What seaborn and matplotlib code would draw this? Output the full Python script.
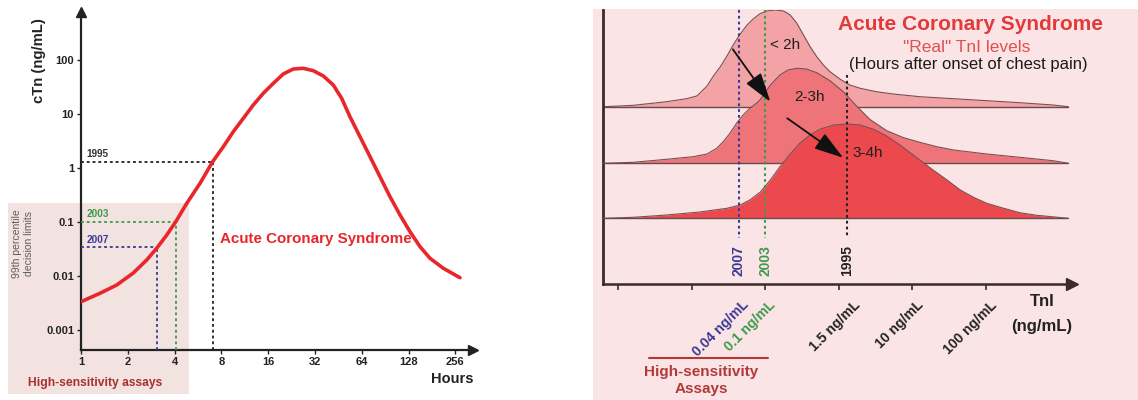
import numpy as np
import matplotlib
matplotlib.use("Agg")
import matplotlib.pyplot as plt
import seaborn as sns
from matplotlib.patches import Rectangle
from matplotlib.lines import Line2D
from matplotlib.ticker import NullLocator

sns.set_theme(style="white")
plt.rcParams["font.family"] = ["Liberation Sans", "DejaVu Sans"]

# ---------------- data: left panel (cTn kinetics) ----------------
hours = [1.0, 1.325, 1.697, 2.17, 2.646, 3.068, 3.56, 4.07, 4.79, 5.83, 7.03, 8.23,
         9.54, 11.07, 12.83, 14.88, 17.26, 20.0, 23.2, 26.9, 31.2, 36.2, 41.96,
         47.5, 53.7, 62.3, 72.3, 83.8, 97.2, 112.7, 130.7, 151.6, 175.7, 214, 274]
ctn = [0.00334, 0.00479, 0.00681, 0.01137, 0.0198, 0.0326, 0.0574, 0.1014, 0.222,
       0.521, 1.31, 2.48, 4.70, 8.32, 14.7, 24.2, 37.0, 55.1, 68.1, 70.2, 63.4,
       50.6, 34.4, 19.5, 8.91, 3.80, 1.62, 0.690, 0.294, 0.135, 0.0661, 0.0349,
       0.0213, 0.0139, 0.0093]
hour_ticks = [1, 2, 4, 8, 16, 32, 64, 128, 256]
ctn_ticks = [0.001, 0.01, 0.1, 1, 10, 100]
ctn_tick_labels = ["0.001", "0.01", "0.1", "1", "10", "100"]

cut_years = ["1995", "2003", "2007"]
cut_hours = [7.03, 4.07, 3.07]
cut_ctn = [1.29, 0.10, 0.034]
cut_colors = ["#222222", "#3d9a4c", "#3a3a95"]

# ---------------- data: right panel (TnI distributions) ----------------
tnl_tick_pos = [0, 1, 2, 3, 4, 5]
tnl_tick_labels = ["", "", "0.1 ng/mL", "1.5 ng/mL", "10 ng/mL", "100 ng/mL"]
extra_label = "0.04 ng/mL"
right_cut_pos = [3.11, 2.0, 1.64]          # 1995, 2003, 2007

ridge_names = ["< 2h", "2-3h", "3-4h"]
r1_u = [-0.19, 0.21, 0.66, 0.93, 1.07, 1.11, 1.21, 1.29, 1.39, 1.48, 1.57, 1.66, 1.75,
        1.84, 1.93, 2.02, 2.13, 2.25, 2.34, 2.43, 2.52, 2.61, 2.70, 2.79, 2.88, 3.02,
        3.15, 3.29, 3.51, 3.74, 4.10, 4.56, 5.01, 5.46, 5.91, 6.12]
r1_h = [0, 1.4, 5.0, 8.0, 10.7, 13.4, 20.7, 30, 40, 50.7, 62.4, 72.7, 81.4,
        88, 93, 95.7, 96.7, 95.7, 91.7, 83.4, 71.7, 60, 50, 41.7, 35, 27.4,
        21.7, 18.4, 15, 12.7, 10, 8, 6, 4, 1.7, 0]
r2_u = [-0.19, 0.21, 0.66, 1.02, 1.21, 1.34, 1.43, 1.52, 1.61, 1.70, 1.79, 1.88, 1.93,
        2.07, 2.20, 2.31, 2.43, 2.56, 2.70, 2.88, 3.06, 3.24, 3.42, 3.65, 3.88, 4.10,
        4.33, 4.56, 5.01, 5.46, 5.91, 6.12]
r2_h = [0, 1, 4, 6.6, 9.3, 15, 21.6, 30, 40, 48.3, 55, 60, 63.5,
        78.3, 88.3, 93.3, 95, 94.3, 90.6, 82.6, 71.6, 57.3, 44, 32.6, 25.6, 21,
        16.6, 13.3, 9.3, 6, 2.6, 0]
r3_u = [-0.19, 0.21, 0.66, 1.11, 1.48, 1.66, 1.79, 1.93, 2.07, 2.20, 2.34, 2.47, 2.61,
        2.74, 2.93, 3.11, 3.29, 3.47, 3.65, 3.83, 4.01, 4.10, 4.28, 4.47, 4.65, 4.83,
        5.01, 5.24, 5.46, 5.69, 6.12]
r3_h = [0, 1, 3.3, 6.3, 10, 13.3, 18.3, 26, 38.3, 51.6, 64.3, 75, 83.3,
        89, 93.3, 94.3, 93.3, 89, 82.3, 73.3, 63.3, 58.3, 48.3, 38.3, 28.3, 21,
        15, 10, 5.6, 3, 0]

# ---------------- figure ----------------
W, H = 1138, 400
fig = plt.figure(figsize=(W / 100, H / 100), dpi=100)
fig.patch.set_facecolor("white")


def fx(p):
    return p / W


def fy(p):
    return 1 - p / H


# background panels
fig.add_artist(Rectangle((fx(8), fy(394)), (189 - 8) / W, (394 - 203) / H,
                         transform=fig.transFigure, facecolor="#f2e2e0",
                         edgecolor="none", zorder=-5))
fig.add_artist(Rectangle((fx(593), 0), 1 - fx(593), fy(9),
                         transform=fig.transFigure, facecolor="#fbe4e6",
                         edgecolor="none", zorder=-5))

AX = "#222222"

# ---------------- left panel ----------------
axL = fig.add_axes([fx(81), fy(350), (473 - 81) / W, (350 - 12) / H])
axL.patch.set_alpha(0)
axL.set_xscale("log", base=2)
axL.set_yscale("log")
axL.set_xlim(1, 2 ** (392 / 46.8))
axL.set_ylim(10 ** (-3 - 20 / 54), 10 ** (-3 + 318 / 54))

sns.lineplot(x=hours, y=ctn, ax=axL, color="#e8262b", lw=2.6,
             estimator=None, sort=False, legend=False, zorder=5)

ylo = axL.get_ylim()[0]
for yr, h, c, col in zip(cut_years, cut_hours, cut_ctn, cut_colors):
    axL.plot([1, h], [c, c], ls=(0, (1.6, 1.6)), color=col, lw=1.3, zorder=3)
    axL.plot([h, h], [ylo, c], ls=(0, (1.6, 1.6)), color=col, lw=1.3, zorder=3)
    axL.annotate(yr, xy=(1, c), xytext=(4, 2), textcoords="offset points",
                 ha="left", va="bottom", fontsize=7.2, fontweight="bold",
                 color=col if yr != "1995" else "#333333")

for s in ["top", "right"]:
    axL.spines[s].set_visible(False)
for s in ["left", "bottom"]:
    axL.spines[s].set_color(AX)
    axL.spines[s].set_linewidth(1.6)
axL.plot(0, 1, marker="^", ms=7, color=AX, transform=axL.transAxes, clip_on=False)
axL.plot(1, 0, marker=">", ms=7, color=AX, transform=axL.transAxes, clip_on=False)

axL.set_xticks(hour_ticks)
axL.set_xticklabels([str(t) for t in hour_ticks])
axL.set_yticks(ctn_ticks)
axL.set_yticklabels(ctn_tick_labels)
axL.xaxis.set_minor_locator(NullLocator())
axL.yaxis.set_minor_locator(NullLocator())
axL.tick_params(axis="both", which="major", direction="out", length=3, width=1,
                color=AX, labelsize=8, pad=2, bottom=True, left=True,
                labelcolor=AX)
for lab in axL.get_xticklabels() + axL.get_yticklabels():
    lab.set_fontweight("bold")
axL.set_xlabel("")
axL.set_ylabel("")

fig.text(fx(39), fy(61), "cTn (ng/mL)", rotation=90, ha="center", va="center",
         fontsize=10.7, fontweight="bold", color=AX)
fig.text(fx(452), fy(379), "Hours", ha="center", va="center",
         fontsize=10.5, fontweight="bold", color=AX)
fig.text(fx(220), fy(239), "Acute Coronary Syndrome", ha="left", va="center",
         fontsize=10.9, fontweight="bold", color="#e8262b")
fig.text(fx(95), fy(383), "High-sensitivity assays", ha="center", va="center",
         fontsize=8.7, fontweight="bold", color="#a8302e")
fig.text(fx(23), fy(244), "99th percentile\ndecision limits", rotation=90,
         ha="center", va="center", fontsize=7.5, color="#5e5e5e",
         linespacing=1.15, multialignment="center")

# ---------------- right panel ----------------
axR = fig.add_axes([fx(603), fy(284), (1072 - 603) / W, (284 - 10) / H])
axR.patch.set_alpha(0)
x_lo, x_hi = -0.204, 6.168
axR.set_xlim(x_lo, x_hi)
axR.set_ylim(-65.7, 208.3)

offsets = [111.6, 55.0, 0.0]
fills = ["#f3a2a5", "#ee7479", "#ec494f"]
EDGE = "#7a5050"
ridges = [(r1_u, r1_h), (r2_u, r2_h), (r3_u, r3_h)]
for i, ((u, h), base, fc) in enumerate(zip(ridges, offsets, fills)):
    u = np.asarray(u)
    top = base + np.asarray(h)
    z = 2 + i * 2
    axR.fill_between(u, base, top, color=fc, lw=0, zorder=z)
    sns.lineplot(x=u, y=top, ax=axR, color=EDGE, lw=0.8, estimator=None,
                 sort=False, legend=False, zorder=z + 0.5)
    axR.plot([x_lo, u[-1]], [base, base], color="#6a4a4a", lw=1.0, zorder=z + 0.5)

# ridge labels
label_pos = [(2.07, 173.3), (2.40, 121.6), (3.19, 65.0)]
for name, (lx, ly) in zip(ridge_names, label_pos):
    axR.text(lx, ly, name, ha="left", va="center", fontsize=11, color="#1f1f1f",
             zorder=20)

# arrows
arrow_pairs = [((1.56, 169.0), (2.07, 116.5)), ((2.30, 100.0), (3.06, 60.5))]
for (x0, y0), (x1, y1) in arrow_pairs:
    axR.annotate("", xy=(x1, y1), xytext=(x0, y0),
                 arrowprops=dict(arrowstyle="-|>,head_length=0.9,head_width=0.28",
                                 color="#111111", lw=1.3,
                                 mutation_scale=20, shrinkA=0, shrinkB=0),
                 zorder=21)

# vertical cutoff lines
line_tops = [143.3, 208.3, 208.3]
for yr, u0, col, yt in zip(cut_years, right_cut_pos, cut_colors, line_tops):
    axR.plot([u0, u0], [yt, -19.7], ls=(0, (1.3, 1.5)), color=col, lw=1.5,
             zorder=15, clip_on=False)
    axR.text(u0, -27.0, yr, rotation=90, ha="center", va="top", fontsize=10,
             fontweight="bold", color=col)

# axes styling
axR.spines["top"].set_visible(False)
axR.spines["right"].set_visible(False)
axR.spines["left"].set_color("#3a2a2a")
axR.spines["left"].set_linewidth(2.0)
axR.spines["bottom"].set_color("#3a2a2a")
axR.spines["bottom"].set_linewidth(1.8)
axR.plot(1, 0, marker=">", ms=8, color="#3a2a2a", transform=axR.transAxes,
         clip_on=False)
axR.set_xticks(tnl_tick_pos)
axR.set_xticklabels([])
axR.set_yticks([])
axR.tick_params(axis="x", direction="out", length=4, width=1.2,
                color="#3a2a2a", bottom=True)

tick_dx = [4, 4, 3, 14, 4, 4]
for pos, lab, dx in zip(tnl_tick_pos, tnl_tick_labels, tick_dx):
    if not lab:
        continue
    col = "#3d9a4c" if lab.startswith("0.1") else "#222222"
    axR.annotate(lab, xy=(pos, 0), xycoords=("data", "axes fraction"),
                 xytext=(dx, -14), textcoords="offset pixels", rotation=45,
                 rotation_mode="anchor", ha="right", va="top", fontsize=10,
                 fontweight="bold", color=col)
axR.annotate(extra_label, xy=(right_cut_pos[2], 0), xycoords=("data", "axes fraction"),
             xytext=(3, -14), textcoords="offset pixels", rotation=45,
             rotation_mode="anchor", ha="right", va="top", fontsize=10,
             fontweight="bold", color="#3a3a95")

fig.text(fx(1042), fy(302), "TnI", ha="center", va="center", fontsize=12,
         fontweight="bold", color="#222222")
fig.text(fx(1042), fy(327), "(ng/mL)", ha="center", va="center", fontsize=12,
         fontweight="bold", color="#222222")

fig.text(fx(970), fy(24), "Acute Coronary Syndrome", ha="center", va="center",
         fontsize=15, fontweight="bold", color="#e23a3a")
fig.text(fx(967), fy(47.5), '"Real" TnI levels', ha="center", va="center",
         fontsize=12.5, color="#e0504f")
fig.text(fx(968), fy(64), "(Hours after onset of chest pain)", ha="center",
         va="center", fontsize=12, color="#1a1a1a")

fig.add_artist(Line2D([fx(649), fx(768)], [fy(358), fy(358)],
                      transform=fig.transFigure, color="#b03a3a", lw=1.5))
fig.text(fx(701), fy(372), "High-sensitivity", ha="center", va="center",
         fontsize=11, fontweight="bold", color="#b03a3a")
fig.text(fx(701), fy(389), "Assays", ha="center", va="center",
         fontsize=11, fontweight="bold", color="#b03a3a")

fig.savefig("out.png", dpi=100)
